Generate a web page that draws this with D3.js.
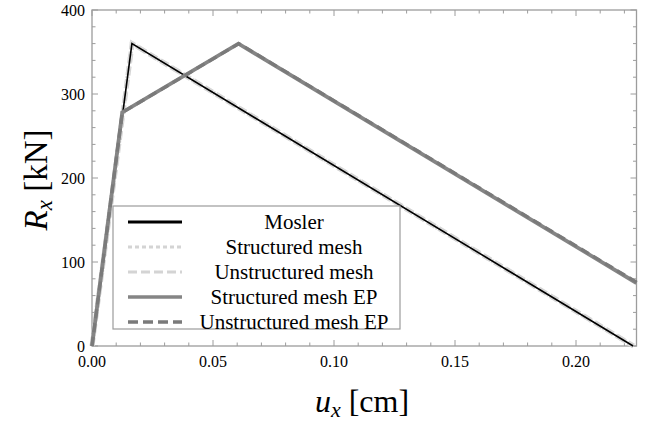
<!DOCTYPE html>
<html><head><meta charset="utf-8">
<script src="https://cdn.jsdelivr.net/npm/d3@7"></script>
<style>body{margin:0;background:#fff}svg{display:block}</style>
</head><body>
<svg id="c" width="658" height="428"></svg>
<script>
// Data
const moslerU = [0, 0.0165, 0.2236];
const moslerR = [0, 360, 0];
const structU = [0, 0.0165, 0.2236];
const structR = [0, 360, 0];
const unstructU = [0, 0.0166, 0.2238];
const unstructR = [0, 360, 0];
const structEPU = [0, 0.0125, 0.0605, 0.225];
const structEPR = [0, 278, 360, 75];
const unstructEPU = [0, 0.0125, 0.0607, 0.225];
const unstructEPR = [0, 278, 360, 76];
const xTicks = [0, 0.05, 0.10, 0.15, 0.20];
const xTickLabels = ["0.00", "0.05", "0.10", "0.15", "0.20"];
const yTicks = [0, 100, 200, 300, 400];
const legendNames = ["Mosler", "Structured mesh", "Unstructured mesh", "Structured mesh EP", "Unstructured mesh EP"];

const svg = d3.select("#c");
const x = d3.scaleLinear().domain([0, 0.225]).range([92, 636.5]);
const y = d3.scaleLinear().domain([0, 400]).range([346, 10]);
const font = "'Liberation Serif', 'Times New Roman', serif";
const frameCol = "#9c9c9c";

// ticks (inward, all four sides)
const g = svg.append("g");
const xMinor = d3.range(0, 0.2251, 0.01);
const yMinor = d3.range(0, 401, 20);
xMinor.forEach((v, i) => {
  const major = (i % 5 === 0);
  const L = major ? 6 : 3.5;
  g.append("line").attr("x1", x(v)).attr("x2", x(v)).attr("y1", y(0)).attr("y2", y(0) - L).attr("stroke", frameCol);
  g.append("line").attr("x1", x(v)).attr("x2", x(v)).attr("y1", y(400)).attr("y2", y(400) + L).attr("stroke", frameCol);
});
yMinor.forEach((v, i) => {
  const major = (i % 5 === 0);
  const L = major ? 6 : 3.5;
  g.append("line").attr("x1", x(0)).attr("x2", x(0) + L).attr("y1", y(v)).attr("y2", y(v)).attr("stroke", frameCol);
  g.append("line").attr("x1", x(0.225)).attr("x2", x(0.225) - L).attr("y1", y(v)).attr("y2", y(v)).attr("stroke", frameCol);
});
// frame
svg.append("rect").attr("x", x(0)).attr("y", y(400)).attr("width", x(0.225) - x(0)).attr("height", y(0) - y(400))
  .attr("fill", "none").attr("stroke", frameCol).attr("stroke-width", 1.3);

// tick labels
xTicks.forEach((v, i) => {
  svg.append("text").attr("x", x(v)).attr("y", 367).attr("text-anchor", "middle")
    .attr("font-family", font).attr("font-size", 16).text(xTickLabels[i]);
});
yTicks.forEach(v => {
  svg.append("text").attr("x", 85).attr("y", y(v) + 5.5).attr("text-anchor", "end")
    .attr("font-family", font).attr("font-size", 16).text(v);
});

// axis titles
const xt = svg.append("text").attr("x", 362).attr("y", 412).attr("text-anchor", "middle")
  .attr("font-family", font).attr("font-size", 32);
xt.append("tspan").attr("font-style", "italic").text("u");
xt.append("tspan").attr("font-style", "italic").attr("font-size", 22).attr("dy", 5).text("x");
xt.append("tspan").attr("dy", -5).text(" [cm]");

const yt = svg.append("text").attr("transform", "translate(47,180) rotate(-90)").attr("text-anchor", "middle")
  .attr("font-family", font).attr("font-size", 33);
yt.append("tspan").attr("font-style", "italic").text("R");
yt.append("tspan").attr("font-style", "italic").attr("font-size", 23).attr("dy", 5).text("x");
yt.append("tspan").attr("dy", -5).text(" [kN]");

// lines
const line = d3.line().x(d => x(d[0])).y(d => y(d[1]));
const zip = (a, b) => a.map((v, i) => [v, b[i]]);
const plot = svg.append("g");
plot.append("path").datum(zip(unstructU, unstructR)).attr("d", line).attr("fill", "none")
  .attr("stroke", "#d4d4d4").attr("stroke-width", 5).attr("stroke-dasharray", "9,4");
plot.append("path").datum(zip(structU, structR)).attr("d", line).attr("fill", "none")
  .attr("stroke", "#dcdcdc").attr("stroke-width", 4.5).attr("stroke-dasharray", "2,3");
plot.append("path").datum(zip(moslerU, moslerR)).attr("d", line).attr("fill", "none")
  .attr("stroke", "#000").attr("stroke-width", 1.6);
plot.append("path").datum(zip(structEPU, structEPR)).attr("d", line).attr("fill", "none")
  .attr("stroke", "#858585").attr("stroke-width", 3.8);
plot.append("path").datum(zip(unstructEPU, unstructEPR)).attr("d", line).attr("fill", "none")
  .attr("stroke", "#7a7a7a").attr("stroke-width", 3.2).attr("stroke-dasharray", "9,5");

// legend
const lg = svg.append("g");
lg.append("rect").attr("x", 113).attr("y", 206).attr("width", 287).attr("height", 123)
  .attr("fill", "#fff").attr("stroke", frameCol).attr("stroke-width", 1.2);
const legStyles = [
  {c: "#000", w: 3, d: null},
  {c: "#d4d4d4", w: 3, d: "4,3"},
  {c: "#d4d4d4", w: 3, d: "9,4"},
  {c: "#858585", w: 3.5, d: null},
  {c: "#7a7a7a", w: 3.5, d: "10,5"}
];
legendNames.forEach((n, i) => {
  const yy = 222 + i * 25;
  const s = legStyles[i];
  const l = lg.append("line").attr("x1", 128).attr("x2", 182).attr("y1", yy).attr("y2", yy)
    .attr("stroke", s.c).attr("stroke-width", s.w);
  if (s.d) l.attr("stroke-dasharray", s.d);
  lg.append("text").attr("x", 294).attr("y", yy + 7).attr("text-anchor", "middle")
    .attr("font-family", font).attr("font-size", 21).text(n);
});
</script>
</body></html>
